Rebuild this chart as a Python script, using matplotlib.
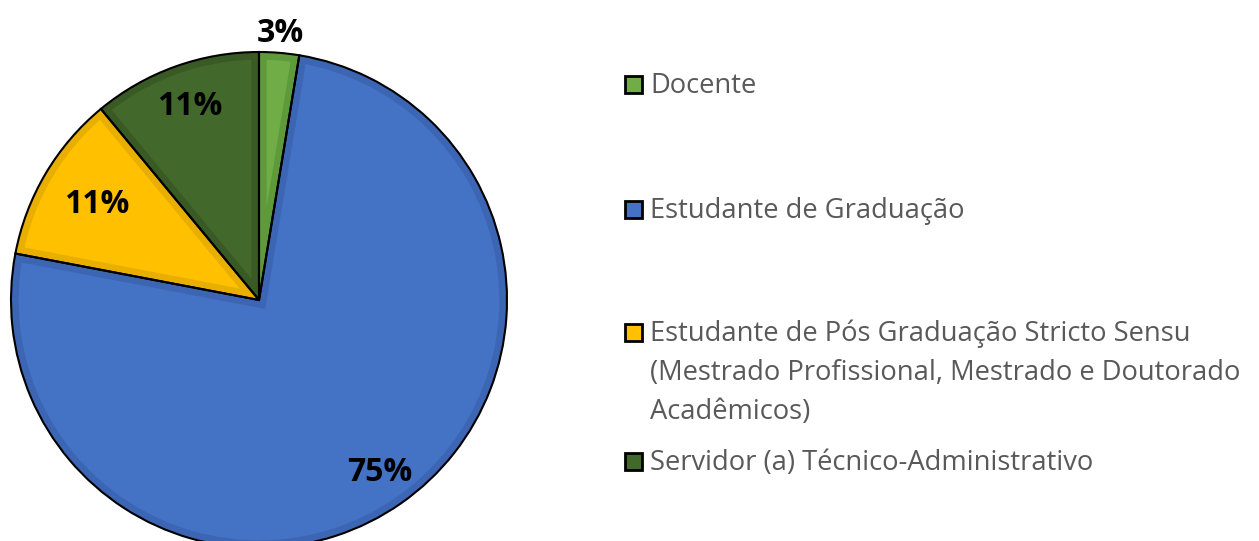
import numpy as np
import matplotlib.pyplot as plt
import matplotlib.patches as mpatches

categories = [
    'Docente',
    'Estudante de Graduação',
    'Estudante de Pós Graduação Stricto Sensu\n(Mestrado Profissional, Mestrado e Doutorado\nAcadêmicos)',
    'Servidor (a) Técnico-Administrativo',
]
shares = [2.6, 75.4, 11.0, 11.0]
colors = ['#70AD47', '#4472C4', '#FFC000', '#43682B']
bevel = ['#5F9A3A', '#3C66B3', '#E8AE00', '#3A5A25']

W, H = 1259, 541
fig = plt.figure(figsize=(W / 100, H / 100), dpi=100)

# pie axes: centre ~ (259, 300) px, radius ~248 px
cx, cy, r = 259, 300, 248
ax = fig.add_axes([(cx - r) / W, (H - cy - r) / H, 2 * r / W, 2 * r / H])

wedges, _, autotexts = ax.pie(
    shares, colors=colors, startangle=90, counterclock=False, radius=1,
    autopct=lambda p: f'{p:.0f}%', pctdistance=1.0,
    textprops=dict(fontsize=23, fontweight='bold', color='black', family='Open Sans'))
for w, c in zip(wedges, bevel):
    w.set_edgecolor(c)
    w.set_linewidth(11)
    w.set_joinstyle('miter')
    w.set_clip_on(True)
    w.set_clip_path(w)

# black outlines
ax.pie(shares, startangle=90, counterclock=False, radius=1,
       wedgeprops=dict(fill=False, edgecolor='black', linewidth=1.5))

# label distance from centre per slice (Excel "best fit")
label_dist = [1.08, 0.85, 0.76, 0.83]
for t, d in zip(autotexts, label_dist):
    x0, y0 = t.get_position()
    t.set_position((x0 * d, y0 * d))

ax.set_xlim(-1, 1)
ax.set_ylim(-1, 1)
ax.set_aspect('auto')
ax.axis('off')

# legend, laid out by hand like the Excel original
leg_y = [84, 209, 332, 461]   # centre of the first line of each entry
line_h = 39
for label, col, y in zip(categories, colors, leg_y):
    fig.patches.append(mpatches.Rectangle(
        (625 / W, (H - y - 9) / H), 17 / W, 17 / H, transform=fig.transFigure,
        facecolor=col, edgecolor='black', linewidth=2))
    for i, line in enumerate(label.split('\n')):
        fig.text(650 / W, (H - (y + 9 + i * line_h)) / H, line, ha='left', va='baseline',
                 fontsize=19.7, color='#595959', family='Open Sans')

fig.savefig('out.png', dpi=100)
